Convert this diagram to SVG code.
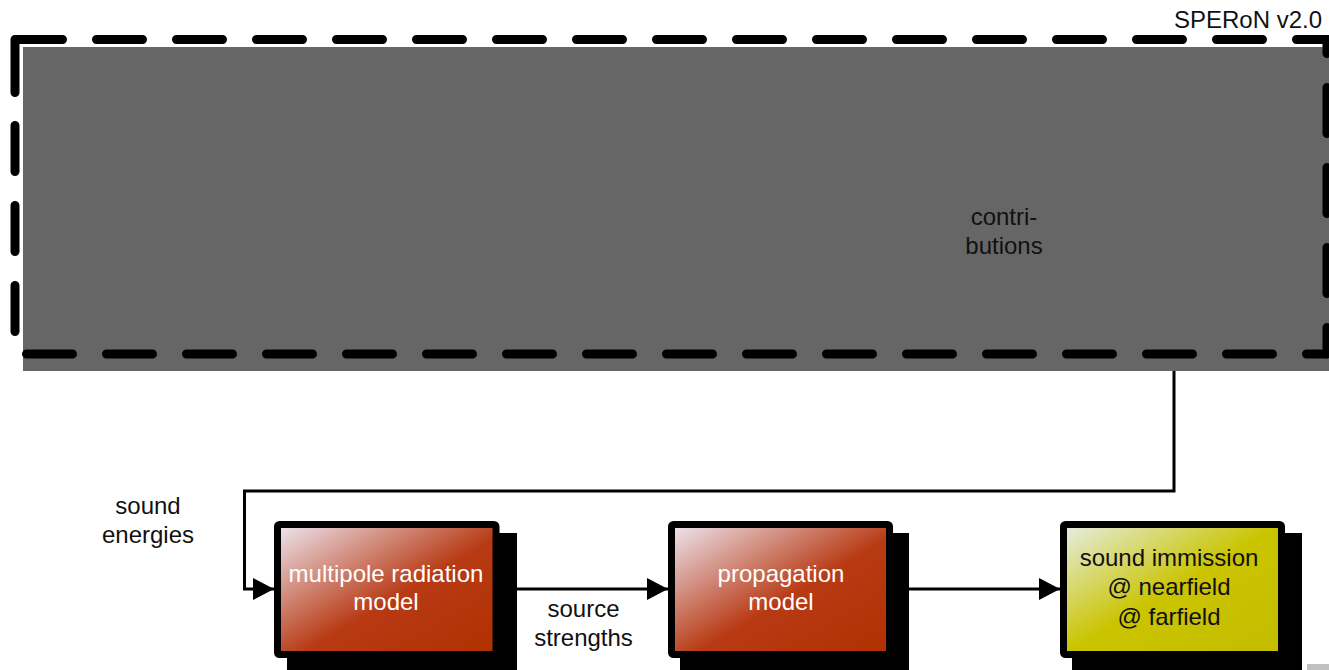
<svg xmlns="http://www.w3.org/2000/svg" width="1329" height="670" viewBox="0 0 1329 670">
<defs>
<style>
.t{font-family:"Liberation Sans",Arial,sans-serif;font-size:24px;text-anchor:middle}
.w{fill:#ffffff}
.k{fill:#111111}
.dash{fill:none;stroke:#000;stroke-width:9;stroke-linecap:round;stroke-dasharray:46 34}
.box{stroke:#000;stroke-width:7;stroke-linejoin:round}
.shadow{fill:#000}
.conn{fill:none;stroke:#000;stroke-width:3}
</style>
<linearGradient id="red" x1="0" y1="0" x2="1" y2="1">
<stop offset="0" stop-color="#eee8f2"/>
<stop offset="0.55" stop-color="#b83a14"/>
<stop offset="1" stop-color="#b03000"/>
</linearGradient>
<linearGradient id="yel" x1="0" y1="0" x2="1" y2="1">
<stop offset="0" stop-color="#e6eee6"/>
<stop offset="0.5" stop-color="#cac400"/>
<stop offset="1" stop-color="#c4bc00"/>
</linearGradient>
<marker id="arr" markerUnits="userSpaceOnUse" markerWidth="22" markerHeight="22" refX="21" refY="11" orient="auto">
<path d="M0,0 L21,11 L0,22 Z" fill="#000"/>
</marker>
</defs>

<g id="container">
<rect x="23" y="47" width="1310" height="324" fill="#666666"/>
<line class="dash" x1="16.5" y1="39.5" x2="1340" y2="39.5"/>
<line class="dash" x1="15" y1="39.5" x2="15" y2="331.5" style="stroke-dasharray:53 33 46 34 46 34 46 34"/>
<line class="dash" x1="26.5" y1="354" x2="1327" y2="354"/>
<line class="dash" x1="1327" y1="39.5" x2="1327" y2="354" style="stroke-dashoffset:32"/>
<text class="t k" x="1322" y="28" text-anchor="end" style="text-anchor:end">SPERoN v2.0</text>
<text class="t k" x="1004" y="225">contri-</text>
<text class="t k" x="1004" y="254">butions</text>
</g>

<g id="connectors">
<polyline class="conn" points="1174,371 1174,491 244.5,491 244.5,589 274,589" marker-end="url(#arr)"/>
<line class="conn" x1="499" y1="589" x2="668" y2="589" marker-end="url(#arr)"/>
<line class="conn" x1="892" y1="589" x2="1060" y2="589" marker-end="url(#arr)"/>
<text class="t k" x="148" y="514">sound</text>
<text class="t k" x="148" y="543">energies</text>
<text class="t k" x="583.5" y="617">source</text>
<text class="t k" x="583.5" y="646">strengths</text>
</g>

<g id="multipole">
<rect class="shadow" x="287" y="533" width="230" height="150"/>
<rect class="box" x="277.5" y="524.5" width="218.5" height="130" rx="2" fill="url(#red)"/>
<text class="t w" x="386" y="582">multipole radiation</text>
<text class="t w" x="386" y="610">model</text>
</g>

<g id="propagation">
<rect class="shadow" x="680" y="533" width="229" height="150"/>
<rect class="box" x="671.5" y="524.5" width="218" height="130" rx="2" fill="url(#red)"/>
<text class="t w" x="781" y="582">propagation</text>
<text class="t w" x="781" y="610">model</text>
</g>

<g id="immission">
<rect class="shadow" x="1072" y="533" width="230" height="150"/>
<rect class="box" x="1063.5" y="524.5" width="218" height="130" rx="2" fill="url(#yel)"/>
<text class="t k" x="1169" y="566">sound immission</text>
<text class="t k" x="1169" y="595">@ nearfield</text>
<text class="t k" x="1169" y="625">@ farfield</text>
</g>

<rect x="1307" y="664" width="22" height="6" fill="#c0c0c0"/>
</svg>
